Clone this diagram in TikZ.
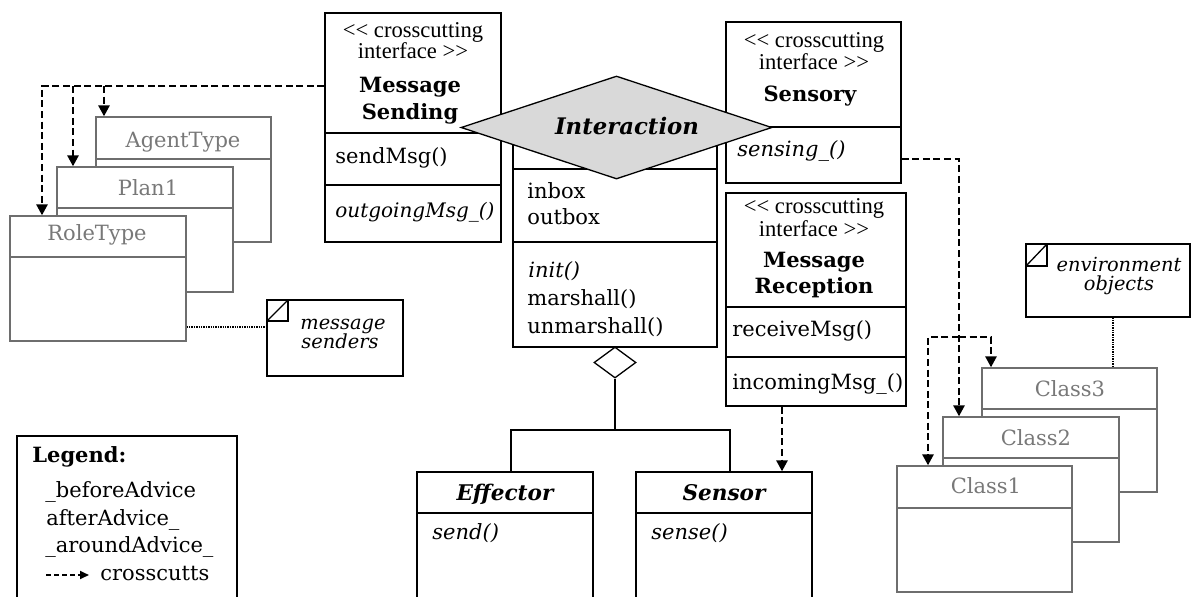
\documentclass[tikz,border=0pt]{standalone}
\usepackage{fontspec}
\setmainfont{DejaVu Serif}
\newfontfamily\stfam{Liberation Serif}
\usetikzlibrary{arrows.meta,fit,shapes.geometric}
\definecolor{gline}{RGB}{110,110,110}
\definecolor{gtext}{RGB}{120,120,120}
\definecolor{dfill}{RGB}{217,217,217}
\newcommand\mainsz{\fontsize{10.5}{13}\selectfont}
\newcommand\notesz{\fontsize{9.7}{11}\selectfont}
\newcommand\stsz{\stfam\fontsize{11.3}{12}\selectfont}
\begin{document}
\begin{tikzpicture}[x=0.5pt,y=-0.5pt,
  box/.style={draw, line width=0.65pt, fill=white, inner sep=0pt},
  gbox/.style={draw=gline, line width=0.65pt, fill=white, inner sep=0pt},
  tx/.style={inner sep=0pt, font=\mainsz, anchor=mid},
  tl/.style={tx, anchor=mid west},
  gt/.style={tx, text=gtext},
  st/.style={inner sep=0pt, font=\stsz, anchor=mid},
  bt/.style={tx, font=\mainsz\bfseries},
  bit/.style={tx, font=\fontsize{10.8}{13}\selectfont\bfseries\itshape},
  itl/.style={tl, font=\mainsz\itshape},
  itc/.style={tx, font=\notesz\itshape},
  divline/.style={line width=0.65pt},
  gdiv/.style={line width=0.65pt, draw=gline},
  dep/.style={line width=1.3pt, dash pattern=on 3.5pt off 1.8pt, -{Triangle[length=5.5pt,width=5.5pt]}},
  dotl/.style={line width=1.1pt, dash pattern=on 0.7pt off 0.5pt},
]
\useasboundingbox (0,0) rectangle (1191,596);
\clip (0,0) rectangle (1191,596);

% ---- stacked agent classes
\node[gbox, fit={(96,117)(271,242)}] (agent) {};
\draw[gdiv] (agent.west |- 0,159) -- (agent.east |- 0,159);
\node[gt] (tagent) at (183,142) {AgentType};
\node[gbox, fit={(57,167)(233,292)}] (plan) {};
\draw[gdiv] (plan.west |- 0,208) -- (plan.east |- 0,208);
\node[gt] (tplan) at (148,190) {Plan1};
\node[gbox, fit={(10,216)(186,341)}] (role) {};
\draw[gdiv] (role.west |- 0,257) -- (role.east |- 0,257);
\node[gt] (trole) at (97,235) {RoleType};

% ---- message senders note
\node[box, fit={(267,300)(403,376)}] (msn) {};
\draw[divline] (267,321) -- (288,321) -- (288,300);
\draw[divline] (267,321) -- (288,300);
\node[itc] (tmsn1) at (343,324) {message};
\node[itc] (tmsn2) at (340,343) {senders};
\draw[dotl] (role.east |- 0,327) -- (msn.west |- 0,327);

% ---- Message Sending
\node[box, fit={(325,13)(501,242)}] (ms) {};
\draw[divline] (ms.west |- 0,133) -- (ms.east |- 0,133);
\draw[divline] (ms.west |- 0,185) -- (ms.east |- 0,185);
\node[st] (tms1) at (413,32) {<\kern0pt< crosscutting};
\node[st] (tms2) at (413,53) {interface >\kern0pt>};
\node[bt] (tms3) at (410,87) {Message};
\node[bt] (tms4) at (410,114) {Sending};
\node[tl] (tms5) at (335,158) {sendMsg()};
\node[itl, font=\fontsize{10}{13}\selectfont\itshape] (tms6) at (335,212) {outgoingMsg\_()};

% ---- Interaction class
\node[box, fit={(513,120)(717,347)}] (inter) {};
\draw[divline] (inter.west |- 0,169) -- (inter.east |- 0,169);
\draw[divline] (inter.west |- 0,242) -- (inter.east |- 0,242);
\node[tl] (ti1) at (527,193) {inbox};
\node[tl] (ti2) at (527,219) {outbox};
\node[itl] (ti3) at (528,272) {init()};
\node[tl] (ti4) at (527,300) {marshall()};
\node[tl] (ti5) at (527,328) {unmarshall()};

% ---- Sensory
\node[box, fit={(726,22)(901,183)}] (sens) {};
\draw[divline] (sens.west |- 0,127) -- (sens.east |- 0,127);
\node[st] (tse1) at (814,42) {<\kern0pt< crosscutting};
\node[st] (tse2) at (814,64) {interface >\kern0pt>};
\node[bt] (tse3) at (810,96) {Sensory};
\node[itl] (tse4) at (737,151) {sensing\_()};

% ---- Message Reception
\node[box, fit={(726,193)(906,406)}] (mr) {};
\draw[divline] (mr.west |- 0,307) -- (mr.east |- 0,307);
\draw[divline] (mr.west |- 0,357) -- (mr.east |- 0,357);
\node[st] (tmr1) at (814,208) {<\kern0pt< crosscutting};
\node[st] (tmr2) at (814,231) {interface >\kern0pt>};
\node[bt] (tmr3) at (814,262) {Message};
\node[bt] (tmr4) at (814,288) {Reception};
\node[tl] (tmr5) at (732,331) {receiveMsg()};
\node[tl] (tmr6) at (732,384) {incomingMsg\_()};

% ---- aspect diamond
\node[diamond, draw, line width=0.65pt, fill=dfill, inner sep=0pt,
      minimum width=155.5pt, minimum height=51.5pt] (dia) at (616.5,127.5) {};
\node[tx, font=\fontsize{11.4}{14}\selectfont\bfseries\itshape] (tdia) at (627,129) {Interaction};

% ---- Effector / Sensor
\node[box, fit={(417,472)(593,620)}] (eff) {};
\draw[divline] (eff.west |- 0,513) -- (eff.east |- 0,513);
\node[bit] (teff) at (505,495) {Effector};
\node[itl] (teff2) at (432,534) {send()};
\node[box, fit={(636,472)(812,620)}] (sen) {};
\draw[divline] (sen.west |- 0,513) -- (sen.east |- 0,513);
\node[bit] (tsen) at (724,495) {Sensor};
\node[itl] (tsen2) at (651,534) {sense()};

% aggregation
\node[diamond, draw, line width=0.65pt, fill=white, inner sep=0pt,
      minimum width=21pt, minimum height=15.5pt] (agg) at (615,362.5) {};
\coordinate (aj) at (615,430);
\draw[divline] (agg.south) -- (aj);
\draw[divline] (aj) -| (eff.north -| 511,0);
\draw[divline] (aj) -| (sen.north -| 730,0);

% ---- environment classes
\node[gbox, fit={(982,368)(1157,492)}] (c3) {};
\draw[gdiv] (c3.west |- 0,409) -- (c3.east |- 0,409);
\node[gt] (tc3) at (1070,391) {Class3};
\node[gbox, fit={(943,417)(1119,542)}] (c2) {};
\draw[gdiv] (c2.west |- 0,458) -- (c2.east |- 0,458);
\node[gt] (tc2) at (1036,440) {Class2};
\node[gbox, fit={(897,466)(1072,592)}] (c1) {};
\draw[gdiv] (c1.west |- 0,508) -- (c1.east |- 0,508);
\node[gt] (tc1) at (986,488) {Class1};

% environment note
\node[box, fit={(1026,244)(1190,317)}] (env) {};
\draw[divline] (1026,266) -- (1047,266) -- (1047,244);
\draw[divline] (1026,266) -- (1047,244);
\node[itc] (tenv1) at (1119,266) {environment};
\node[itc] (tenv2) at (1119,285) {objects};
\draw[dotl] (env.south -| 1113,0) -- (c3.north -| 1113,0);

% ---- legend
\node[box, fit={(17,436)(237,620)}] (leg) {};
\node[bt, anchor=mid west] (tl1) at (32,457) {Legend:};
\node[tl] (tl2) at (45,492) {\_beforeAdvice};
\node[tl] (tl3) at (46,520) {afterAdvice\_};
\node[tl] (tl4) at (45,547) {\_aroundAdvice\_};
\coordinate (la) at (46,575);
\coordinate (lb) at (89,575);
\draw[line width=0.9pt, dash pattern=on 2.5pt off 1.5pt, -{Triangle[length=4.5pt,width=4pt]}] (la) -- (lb);
\node[tl] (tl5) at (100,575) {crosscutts};

% ---- crosscutting connectors
\draw[dep] (ms.west |- 0,86) -| (role.north -| 42,0);
\coordinate (ja) at (73,86);
\coordinate (jb) at (104,86);
\draw[dep] (ja) -- (plan.north -| ja);
\draw[dep] (jb) -- (agent.north -| jb);

\draw[dep] (sens.east |- 0,159) -| (c2.north -| 959,0);
\coordinate (jc) at (959,337);
\draw[dep] (jc) -| (c1.north -| 928,0);
\draw[dep] (jc) -| (c3.north -| 991,0);

\draw[dep] (mr.south -| 782,0) -- (sen.north -| 782,0);
\end{tikzpicture}
\end{document}
